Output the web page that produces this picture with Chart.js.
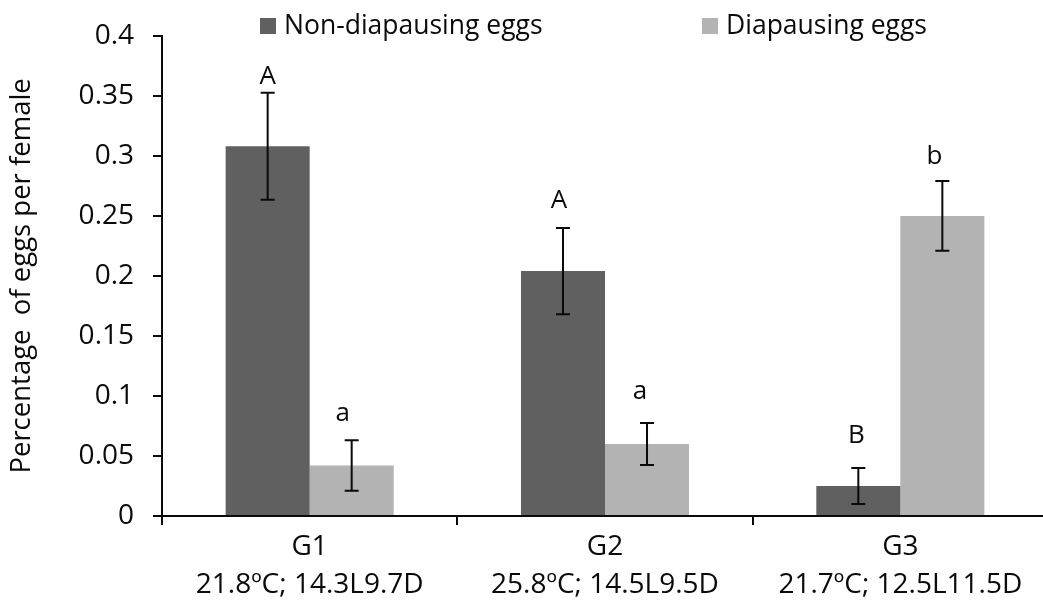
<!DOCTYPE html>
<html>
<head>
<meta charset="utf-8">
<script src="https://cdn.jsdelivr.net/npm/chart.js@4/dist/chart.umd.min.js"></script>
<style>
  html, body { margin: 0; padding: 0; background: #fff; overflow: hidden; }
  canvas { display: block; }
</style>
</head>
<body>
<canvas id="c" width="1050" height="610"></canvas>
<script>
// Egg types per female across three rearing groups
const groupNames = ['G1', 'G2', 'G3'];
const conditions = ['21.8ºC; 14.3L9.7D', '25.8ºC; 14.5L9.5D', '21.7ºC; 12.5L11.5D'];

const nonDiapausing = [0.308, 0.204, 0.025];
const nonDiapausingErr = [0.0445, 0.036, 0.015];
const nonDiapausingLetters = ['A', 'A', 'B'];

const diapausing = [0.042, 0.060, 0.250];
const diapausingErr = [0.021, 0.0175, 0.029];
const diapausingLetters = ['a', 'a', 'b'];

const yTicks = [0, 0.05, 0.1, 0.15, 0.2, 0.25, 0.3, 0.35, 0.4];

const FONT = "'Open Sans', 'Noto Sans', sans-serif";
const INK = '#0a0a0a';
const DARK = '#606060';
const LIGHT = '#b3b3b3';

// Error bars plus significance letters above each bar
const errorBarPlugin = {
  id: 'errorBars',
  afterDatasetsDraw(chart, args, opts) {
    const ctx = chart.ctx;
    const y = chart.scales.y;
    chart.data.datasets.forEach((ds, i) => {
      const meta = chart.getDatasetMeta(i);
      meta.data.forEach((bar, j) => {
        const v = ds.data[j], e = ds.errors[j];
        const top = y.getPixelForValue(v + e);
        const bot = y.getPixelForValue(v - e);
        const x = bar.x;
        ctx.save();
        ctx.strokeStyle = INK;
        ctx.lineWidth = 2;
        ctx.beginPath();
        ctx.moveTo(x, top); ctx.lineTo(x, bot);
        ctx.moveTo(x - 7, top); ctx.lineTo(x + 7, top);
        ctx.moveTo(x - 7, bot); ctx.lineTo(x + 7, bot);
        ctx.stroke();
        ctx.fillStyle = INK;
        ctx.font = '26px ' + FONT;
        ctx.textAlign = 'center';
        ctx.textBaseline = 'alphabetic';
        ctx.fillText(ds.letters[j], x + opts.dx[i][j], top - opts.gap[i][j]);
        ctx.restore();
      });
    });
  }
};

// Legend row across the top
const legendPlugin = {
  id: 'topLegend',
  afterDraw(chart, args, opts) {
    const ctx = chart.ctx;
    const left = chart.chartArea.left;
    ctx.save();
    ctx.font = '26.5px ' + FONT;
    ctx.textBaseline = 'alphabetic';
    ctx.textAlign = 'left';
    chart.data.datasets.forEach((ds, i) => {
      const bx = left + opts.offsets[i];
      ctx.fillStyle = ds.backgroundColor;
      ctx.fillRect(bx, 18, 16, 16);
      ctx.fillStyle = INK;
      ctx.fillText(ds.label, bx + 24, 34);
    });
    ctx.restore();
  }
};

new Chart(document.getElementById('c'), {
  type: 'bar',
  data: {
    labels: groupNames.map((g, i) => [g, conditions[i]]),
    datasets: [
      {
        label: 'Non-diapausing eggs',
        data: nonDiapausing,
        errors: nonDiapausingErr,
        letters: nonDiapausingLetters,
        backgroundColor: DARK
      },
      {
        label: 'Diapausing eggs',
        data: diapausing,
        errors: diapausingErr,
        letters: diapausingLetters,
        backgroundColor: LIGHT
      }
    ]
  },
  options: {
    responsive: false,
    animation: false,
    devicePixelRatio: 1,
    layout: { padding: { top: 33, right: 2, left: 0, bottom: 0 } },
    categoryPercentage: 0.569,
    barPercentage: 1.0,
    plugins: {
      legend: { display: false },
      tooltip: { enabled: false },
      errorBars: {
        gap: [[9, 20, 25], [19, 24, 17]],
        dx: [[0, -4, -2], [-9, -7, -8]]
      },
      topLegend: { offsets: [98, 540] }
    },
    scales: {
      x: {
        grid: {
          offset: true,
          drawOnChartArea: false,
          drawTicks: true,
          tickLength: 9,
          tickColor: INK,
          lineWidth: 2
        },
        border: { display: true, color: INK, width: 2 },
        ticks: {
          color: INK,
          padding: 3,
          font: { family: FONT, size: 28, lineHeight: 1.36 },
          maxRotation: 0,
          autoSkip: false
        },
        afterFit(scale) { scale.height = 94; }
      },
      y: {
        min: 0,
        max: 0.4,
        afterBuildTicks(scale) { scale.ticks = yTicks.map(v => ({ value: v })); },
        grid: {
          drawOnChartArea: false,
          drawTicks: true,
          tickLength: 9,
          tickColor: INK,
          lineWidth: 2
        },
        border: { display: true, color: INK, width: 2 },
        ticks: {
          color: INK,
          padding: 19,
          font: { family: FONT, size: 28 },
          callback: v => String(Number(v.toFixed(2)))
        },
        title: {
          display: true,
          text: 'Percentage  of eggs per female',
          color: INK,
          font: { family: FONT, size: 27.5 },
          padding: { top: 6, bottom: 0 }
        },
        afterFit(scale) { scale.width = 162; }
      }
    }
  },
  plugins: [errorBarPlugin, legendPlugin]
});
</script>
</body>
</html>
